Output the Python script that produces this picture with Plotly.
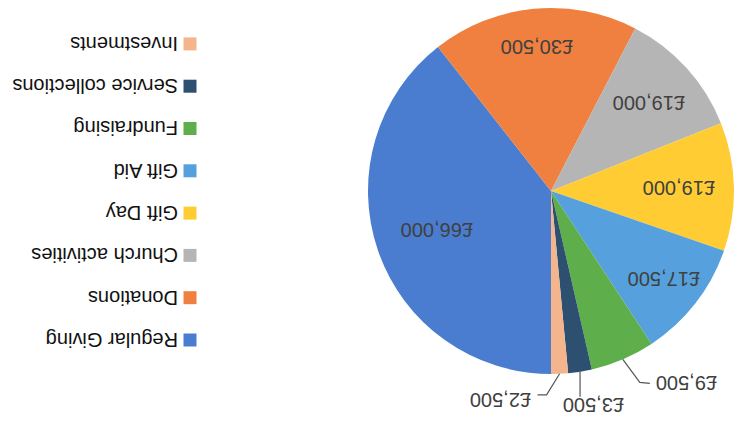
import math
import plotly.graph_objects as go

# ---- data ----
categories = ["Regular Giving", "Donations", "Church activities", "Gift Day",
              "Gift Aid", "Fundraising", "Service collections", "Investments"]
values = [66000, 30500, 19000, 19000, 17500, 9500, 3500, 2500]
colors = ["#4A7CCF", "#EF8040", "#B5B5B5", "#FFCC33",
          "#55A0DD", "#5FAE4C", "#2D5070", "#F4B48C"]

W, H = 738, 428
FONT = "Liberation Sans, Arial, sans-serif"
LABEL_COLOR = "#404040"

# pie geometry (pixels, un-rotated figure)
cx, cy, R = 187, 237, 183

fig = go.Figure()
fig.add_trace(go.Pie(
    labels=categories,
    values=values,
    sort=False,
    direction="clockwise",
    rotation=0,
    marker=dict(colors=colors, line=dict(width=0)),
    textinfo="none",
    showlegend=False,
    hoverinfo="label+value+percent",
    domain=dict(x=[(cx - R) / W, (cx + R) / W], y=[1 - (cy + R) / H, 1 - (cy - R) / H]),
))

# ---- data labels, placed along each slice's mid-angle ----
total = sum(values)
inside_radius = [0.66, 0.79, 0.72, 0.70, 0.78]          # fraction of R, inside labels
# outside labels: leader-line vertices and text anchor, relative to the slice edge (px)
outside = {
    5: dict(path=[(-17, -23), (-27, -24)], text=(-31, -24), anchor="right"),
    6: dict(path=[(0, -25)], text=(-13, -33), anchor="center"),
    7: dict(path=[(13, -21), (22, -21)], text=(27, -26), anchor="left"),
}

def to_paper(px, py):
    return px / W, 1 - py / H

annotations, shapes = [], []
cum = 0
for i, v in enumerate(values):
    mid = (cum + v / 2) / total * 2 * math.pi
    cum += v
    txt = f"£{v:,}"
    lab_font = dict(family=FONT, size=20, color=LABEL_COLOR)
    if i < len(inside_radius):
        r = inside_radius[i] * R
        x, y = to_paper(cx + r * math.sin(mid), cy - r * math.cos(mid))
        annotations.append(dict(text=txt, xref="paper", yref="paper", x=x, y=y,
                                showarrow=False, xanchor="center", yanchor="middle",
                                font=lab_font))
    else:
        ex, ey = cx + R * math.sin(mid), cy - R * math.cos(mid)
        spec = outside[i]
        pts = [(ex, ey)] + [(ex + dx, ey + dy) for dx, dy in spec["path"]]
        d = ""
        for k, (px, py) in enumerate(pts):
            qx, qy = to_paper(px, py)
            d += ("M" if k == 0 else " L") + f"{qx:.5f},{qy:.5f}"
        shapes.append(dict(type="path", xref="paper", yref="paper", path=d,
                           line=dict(color="#555555", width=1.2)))
        tx, ty = to_paper(ex + spec["text"][0], ey + spec["text"][1])
        annotations.append(dict(text=txt, xref="paper", yref="paper", x=tx, y=ty,
                                showarrow=False, xanchor=spec["anchor"], yanchor="middle",
                                font=lab_font))

# ---- legend drawn from the category / colour lists ----
leg_top, leg_pitch = 88, 42.3
marker_x, text_x, msize = 548, 558, 13
for i, (name, col) in enumerate(zip(categories, colors)):
    yc = leg_top + i * leg_pitch
    shapes.append(dict(type="rect", xref="paper", yref="paper",
                       x0=(marker_x - msize / 2) / W, x1=(marker_x + msize / 2) / W,
                       y0=1 - (yc + msize / 2) / H, y1=1 - (yc - msize / 2) / H,
                       fillcolor=col, line=dict(width=0)))
    annotations.append(dict(text=name, xref="paper", yref="paper",
                            x=text_x / W, y=1 - yc / H, xanchor="left", yanchor="middle",
                            showarrow=False,
                            font=dict(family=FONT, size=20, color="#111111")))

fig.update_layout(
    width=W, height=H,
    margin=dict(l=0, r=0, t=0, b=0),
    paper_bgcolor="white", plot_bgcolor="white",
    shapes=shapes, annotations=annotations,
)

# the reference picture is upside down: rotate the whole chart by 180 degrees
post = ("document.body.style.margin='0';"
        "var gd=document.getElementById('{plot_id}');"
        "gd.style.transformOrigin='50% 50%';"
        "gd.style.transform='rotate(180deg)';")
fig.write_html("out.html", post_script=post, config={"displayModeBar": False})
